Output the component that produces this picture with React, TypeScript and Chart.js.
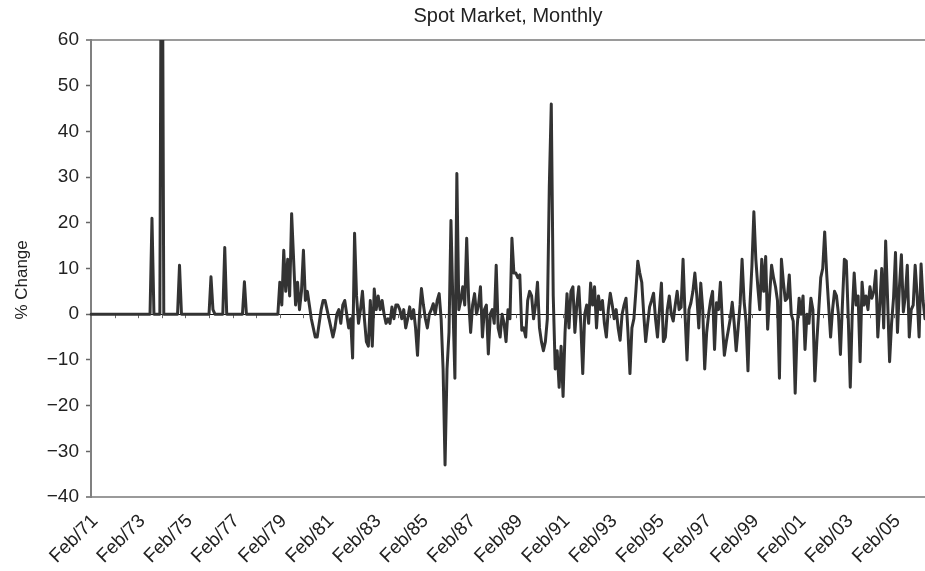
import React, { useEffect, useRef } from 'react';
import { Chart, registerables } from 'chart.js';

Chart.register(...registerables);

const START_YEAR = 1971;
const START_MONTH = 1; // February (0-based)
const MONTH_NAMES = ['Jan', 'Feb', 'Mar', 'Apr', 'May', 'Jun', 'Jul', 'Aug', 'Sep', 'Oct', 'Nov', 'Dec'];

const tickLabels = [
  'Feb/71', 'Feb/73', 'Feb/75', 'Feb/77', 'Feb/79', 'Feb/81', 'Feb/83', 'Feb/85', 'Feb/87',
  'Feb/89', 'Feb/91', 'Feb/93', 'Feb/95', 'Feb/97', 'Feb/99', 'Feb/01', 'Feb/03', 'Feb/05',
];

const TITLE = 'Spot Market, Monthly';
const Y_TITLE = '% Change';
const Y_MIN = -40;
const Y_MAX = 60;
const Y_STEP = 10;

// Monthly % change, Feb 1971 onwards (one row per Feb–Jan year)
const spotChange = [
  0, 0, 0, 0, 0, 0, 0, 0, 0, 0, 0, 0,
  0, 0, 0, 0, 0, 0, 0, 0, 0, 0, 0, 0,
  0, 0, 0, 0, 0, 0, 0, 21, 0, 0, 0, 0,
  120, 0, 0, 0, 0, 0, 0, 0, 0, 10.7, 0, 0,
  0, 0, 0, 0, 0, 0, 0, 0, 0, 0, 0, 0,
  0, 8.2, 1, 0, 0, 0, 0, 0, 14.6, 0, 0, 0,
  0, 0, 0, 0, 0, 0, 7.1, 0, 0, 0, 0, 0,
  0, 0, 0, 0, 0, 0, 0, 0, 0, 0, 0, 0,
  7, 2, 14, 5, 12, 4, 22, 12, 2, 7, 1, 5,
  14, 3, 5, 2, -1, -3, -5, -5, -2, 1, 3, 3,
  1, -1, -3, -5, -3, 0, 1, -2, 2, 3, 0, -3,
  -1, -9.6, 17.7, 4, -2, 1, 5, -1, -6, -7, 3, -7,
  5.5, 1, 4, 1, 3, 0, -2, -1, -2, 1.6, -1, 2,
  2, 1, -1, 1, -3, -1, 1.6, -1, 1, -3, -9, 0,
  5.6, 2, -1, -3, 0, 1, 2.3, 0, 3, 4.5, -1, -12,
  -33, -12, -4, 20.5, 2, -14, 30.8, 1, 3, 6, 2, 16.6,
  3, -4, 2, 4.5, 0, 2, 6, -5, 1, 2, -8.7, 0,
  1, -2, 10.7, -3, -5, 0, -2, -6, 1, -1, 16.6, 9,
  9, 8, 8.6, -3.5, -3, -5, 3, 5, 4, -1, 2, 7,
  -3, -6, -8, -6, -1, 28, 46, 4, -12, -8, -16, -7,
  -18, -4, 4.5, -3, 5, 6, -4, 2, 6, -2, -13, 0,
  2, -2, 6.8, 2, 6, -3, 4, 1, 3, -2, -5, 1,
  4.6, 2, -1, 1, -3, -5.7, 0, 2, 3.5, -4, -13, -3,
  -1, 5, 11.6, 9, 7, 0, -6, -2, 1.6, 3, 4.6, -1,
  -5, 1, 6.8, -6, -5, 1, 4, 0, -1.5, 2, 5, 1,
  1.5, 12, 0, -10, 1, 2.5, 5, 9, 4, -3, 6.8, 1,
  -12, -4, 0, 3, 5, -7.7, 2.5, 1, 7, -2, -9, -6,
  -3.5, -1, 2.6, -2, -8, -3, 2.2, 12, 3, -1.5, -12.4, 2,
  10.5, 22.4, 12, 6, 1, 12, 5, 12.6, -3.3, 4, 10.7, 8,
  6, 3, -14, 12, 7, 3, 3.5, 8.6, 0, -1.5, -17.3, -3,
  3.5, 0, 4, -7.7, 0, -2, 3.5, 1, -14.6, -6, 1, 8,
  10, 18, 9, 2, -5, 1, 5, 4, 0, -8.8, 2, 12,
  11.6, -1, -16, 0, 9, 2, 4, -10.4, 7, 2, 4, 1,
  6, 3.5, 5, 9.5, -5, 2, 10, -3, 16, 3, -10.4, -2,
  3.5, 13.5, -4, 6, 13, 0.5, 4, 10.7, -5, 1, 2, 10.7,
  4, -5, 11, 3, -1,
];

const months = spotChange.map((_, i) => {
  const m = START_MONTH + i;
  const yr = (START_YEAR + Math.floor(m / 12)) % 100;
  return `${MONTH_NAMES[m % 12]}/${String(yr).padStart(2, '0')}`;
});

const FONT = "'Liberation Sans', Arial, Helvetica, sans-serif";

const yearTicksPlugin = {
  id: 'yearTicks',
  beforeDatasetsDraw(chart: any) {
    const xs = chart.scales.x;
    const ys = chart.scales.y;
    const ctx = chart.ctx;
    const y0 = ys.getPixelForValue(0);
    ctx.save();
    ctx.strokeStyle = '#666';
    ctx.lineWidth = 1;
    ctx.beginPath();
    for (let i = 12; i < months.length; i += 12) {
      const px = Math.round(xs.getPixelForValue(i)) + 0.5;
      ctx.moveTo(px, y0);
      ctx.lineTo(px, y0 + 4);
    }
    ctx.stroke();
    ctx.restore();
  },
};

// y-axis title, placed slightly below the axis middle like the original
const yTitlePlugin = {
  id: 'yTitle',
  afterDraw(chart: any) {
    const ctx = chart.ctx;
    const ys = chart.scales.y;
    const cy = ys.getPixelForValue(7.5);
    ctx.save();
    ctx.translate(22, cy);
    ctx.rotate(-Math.PI / 2);
    ctx.fillStyle = '#222';
    ctx.font = `17px ${FONT}`;
    ctx.textAlign = 'center';
    ctx.textBaseline = 'middle';
    ctx.fillText(Y_TITLE, 0, 0);
    ctx.restore();
  },
};

export default function App() {
  const canvasRef = useRef<HTMLCanvasElement | null>(null);

  useEffect(() => {
    if (!canvasRef.current) return;
    const chart = new Chart(canvasRef.current, {
      type: 'line',
      data: {
        labels: months,
        datasets: [
          {
            data: spotChange,
            borderColor: '#333333',
            borderWidth: 3,
            borderJoinStyle: 'round',
            borderCapStyle: 'round',
            pointRadius: 0,
            tension: 0,
            fill: false,
          },
        ],
      },
      options: {
        animation: false,
        responsive: true,
        maintainAspectRatio: false,
        layout: { padding: 0 },
        plugins: {
          legend: { display: false },
          tooltip: { enabled: false },
          title: {
            display: true,
            text: TITLE,
            fullSize: false,
            color: '#222',
            font: { family: FONT, size: 20, weight: 'normal' },
            padding: { top: 4, bottom: 12 },
          },
        },
        scales: {
          x: {
            type: 'category',
            offset: false,
            grid: { display: false, drawTicks: false },
            border: { display: false },
            afterFit: (scale: any) => {
              scale.height = 74;
              scale.paddingLeft = 0;
              scale.paddingRight = 0;
            },
            ticks: {
              autoSkip: false,
              maxRotation: 45,
              minRotation: 45,
              padding: 13,
              labelOffset: 4,
              color: '#222',
              font: { family: FONT, size: 19 },
              callback: function (this: any, value: any) {
                const lbl = this.getLabelForValue(value);
                return tickLabels.includes(lbl) ? lbl : '';
              },
            },
          },
          y: {
            min: Y_MIN,
            max: Y_MAX,
            afterFit: (scale: any) => {
              scale.width = 91;
            },
            border: { display: true, color: '#808080', width: 2 },
            grid: {
              drawOnChartArea: true,
              drawTicks: true,
              tickLength: 5,
              tickColor: '#666',
              tickWidth: 1.5,
              color: (c: any) =>
                c.tick && c.tick.value === 0
                  ? '#111'
                  : c.tick && (c.tick.value === Y_MAX || c.tick.value === Y_MIN)
                  ? '#9a9a9a'
                  : 'rgba(0,0,0,0)',
              lineWidth: (c: any) =>
                c.tick && (c.tick.value === Y_MAX || c.tick.value === Y_MIN) ? 2 : 1,
            },
            title: { display: false },
            ticks: {
              stepSize: Y_STEP,
              padding: 7,
              color: '#222',
              font: { family: FONT, size: 19 },
              callback: (v: any) => (Number(v) < 0 ? '\u2212' + Math.abs(Number(v)) : String(v)),
            },
          },
        },
      },
      plugins: [yearTicksPlugin, yTitlePlugin],
    });
    return () => chart.destroy();
  }, []);

  return (
    <div style={{ position: 'absolute', left: 0, top: 0, width: 925, height: 571, background: '#fff' }}>
      <canvas ref={canvasRef} />
    </div>
  );
}
